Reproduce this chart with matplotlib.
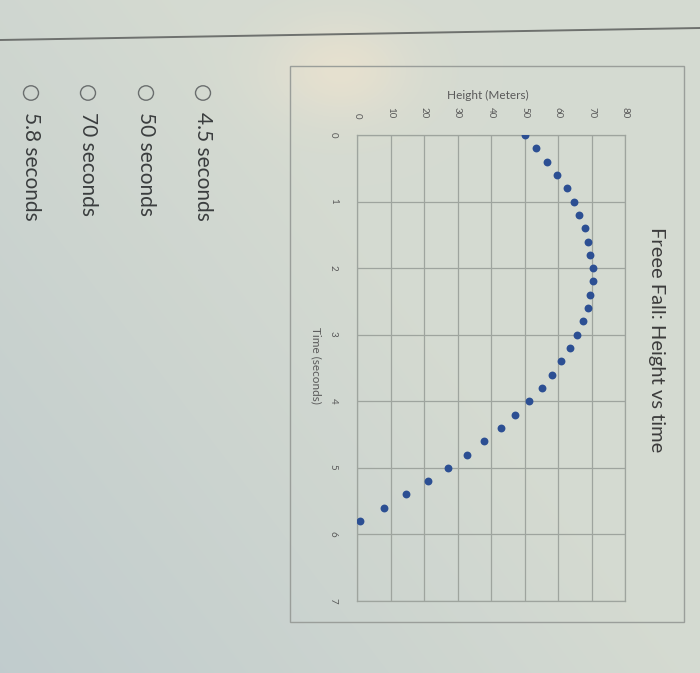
import matplotlib
matplotlib.use("Agg")
import matplotlib.pyplot as plt
import numpy as np
from matplotlib.patches import Rectangle, Circle
from matplotlib.lines import Line2D

plt.rcParams['font.family'] = ['Lato', 'DejaVu Sans']

# ── Dati ──────────────────────────────────────────────────────────────────────
TIME_S = [0.0, 0.2, 0.4, 0.6, 0.8, 1.0, 1.2, 1.4, 1.6, 1.8,
          2.0, 2.2, 2.4, 2.6, 2.8, 3.0, 3.2, 3.4, 3.6, 3.8,
          4.0, 4.2, 4.4, 4.6, 4.8, 5.0, 5.2, 5.4, 5.6, 5.8]
HEIGHT_M = [50.0, 53.4, 56.6, 59.8, 62.7, 64.9, 66.4, 68.2, 69.0, 69.7,
            70.4, 70.4, 69.7, 68.9, 67.6, 65.7, 63.6, 61.0, 58.1, 55.1,
            51.2, 47.3, 42.9, 37.9, 32.7, 27.1, 21.3, 14.6, 8.0, 0.8]
HEIGHT_TICKS = [0, 10, 20, 30, 40, 50, 60, 70, 80]
TIME_TICKS = [0, 1, 2, 3, 4, 5, 6, 7]
OPTIONS = ["4.5 seconds", "50 seconds", "70 seconds", "5.8 seconds"]

TITLE = "Freee Fall: Height vs time"
XLABEL = "Height (Meters)"
YLABEL = "Time (seconds)"

W, H = 700, 673
GRID = '#9ea49e'
TXT = '#5a5a5a'
DOT = '#2c4f93'


def fx(x):
    return x / W


def fy(y):
    return 1 - y / H


fig = plt.figure(figsize=(W / 100, H / 100), dpi=100)

# ── Sfondo (foto dello schermo) ───────────────────────────────────────────────
bg = fig.add_axes([0, 0, 1, 1], zorder=-10)
yy, xx = np.mgrid[0:H, 0:W]
base = np.array([0.835, 0.857, 0.820])
blue = np.array([0.73, 0.78, 0.80])
warm = np.array([0.93, 0.89, 0.81])
wb = np.clip((yy / H) * 0.55 + (1 - xx / W) * 0.75 - 0.55, 0, 1)[..., None]
wg = np.exp(-(((xx - 340) / 70.0) ** 2 + ((yy - 70) / 50.0) ** 2))[..., None]
img = base * (1 - wb) + blue * wb
img = img * (1 - 0.7 * wg) + warm * (0.7 * wg)
bg.imshow(img, aspect='auto', extent=[0, 1, 0, 1])
bg.axis('off')

# linea in alto (bordo del modulo)
fig.add_artist(Line2D([0, 1], [fy(40), fy(28)], color='#6e716e', lw=1.4,
                      transform=fig.transFigure))

# bordo dell'area del grafico
fig.add_artist(Rectangle((fx(290), fy(622)), fx(684 - 290), (622 - 66) / H,
                         fill=False, ec='#9a9e9a', lw=1.0,
                         transform=fig.transFigure))

# ── Grafico ruotato ───────────────────────────────────────────────────────────
ax = fig.add_axes([fx(357), fy(601), fx(625 - 357), (601 - 135) / H])
ax.set_facecolor('none')
ax.scatter(HEIGHT_M, TIME_S, s=32, color=DOT, zorder=3, linewidths=0)
ax.set_xlim(0, 80)
ax.set_ylim(7, 0)
ax.set_xticks(HEIGHT_TICKS)
ax.set_yticks(TIME_TICKS)
ax.xaxis.tick_top()
ax.grid(True, color=GRID, lw=0.9)
ax.set_axisbelow(True)
for s in ax.spines.values():
    s.set_color(GRID)
    s.set_linewidth(0.9)
ax.tick_params(length=0, labelsize=7, labelcolor=TXT, pad=12)
for lab in ax.get_xticklabels():
    lab.set_rotation(-90)
for lab in ax.get_yticklabels():
    lab.set_rotation(-90)
    lab.set_ha('center')
ax.tick_params(axis='y', pad=17)

fig.text(fx(488), fy(95), XLABEL, ha='center', va='center', fontsize=8.5,
         color=TXT)
fig.text(fx(316), fy(365), YLABEL, ha='center', va='center', fontsize=8.5,
         color=TXT, rotation=-90, rotation_mode='anchor')
fig.text(fx(657), fy(340), TITLE, ha='center', va='center', fontsize=14.5,
         color='#3c3c3c', rotation=-90, rotation_mode='anchor')

# ── Opzioni di risposta ───────────────────────────────────────────────────────
opt_x = [203, 146, 88, 31]
for x, label in zip(opt_x, OPTIONS):
    fig.add_artist(Circle((fx(x), fy(93)), 7.5 / W, fill=False, ec='#6a6e6e',
                          lw=1.0, transform=fig.transFigure))
    fig.text(fx(x), fy(112), label, ha='left', va='center', fontsize=15,
             color='#3a3d3e', rotation=-90, rotation_mode='anchor')

fig.savefig('out.png', dpi=100)
